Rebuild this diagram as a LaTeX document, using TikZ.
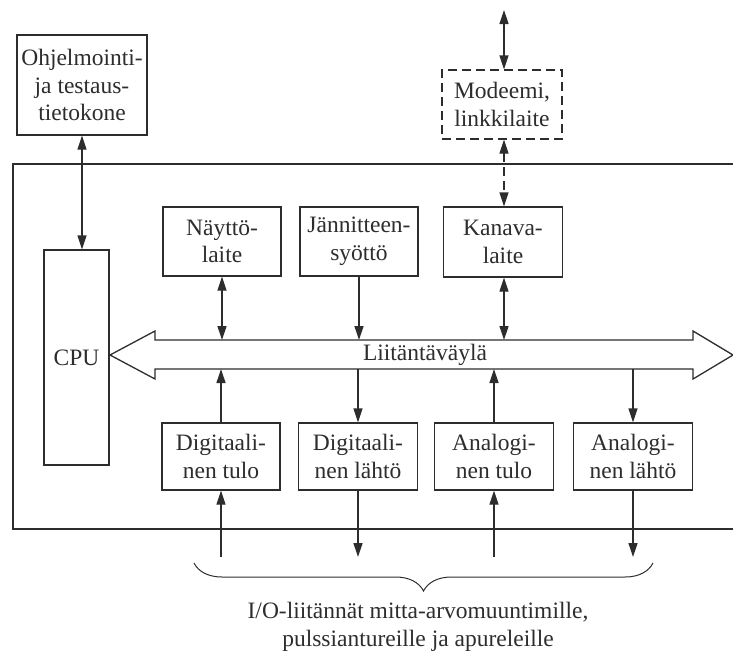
\documentclass[tikz,border=0pt]{standalone}
\usepackage{fontspec}
\setmainfont{Liberation Serif}
\usetikzlibrary{arrows.meta,decorations.pathreplacing}
\definecolor{ink}{RGB}{45,45,45}
\newcommand{\diafont}{\fontsize{23.5}{27.5}\selectfont}
\begin{document}
\begin{tikzpicture}[x=1pt,y=-1pt,line width=1.3pt,color=ink,
  every node/.style={font=\diafont,text=ink},
  box/.style={draw,inner sep=0pt,align=center,fill=white},
  tip/.style={-{Triangle[length=14pt,width=9pt]}},
  both/.style={{Triangle[length=14pt,width=9pt]}-{Triangle[length=14pt,width=9pt]}},
  dashline/.style={dash pattern=on 9pt off 5pt}]
\useasboundingbox (0,0) rectangle (733,653);
% outer frame
\draw (733,164) -- (13,164) -- (13,529) -- (733,529);
% boxes
\node[box,minimum width=130pt,minimum height=100pt] (prog) at (82,85) {Ohjelmointi-\\ja testaus-\\tietokone};
\node[box,dashline,minimum width=120pt,minimum height=69pt] (modem) at (502,104.5) {Modeemi,\\linkkilaite};
\coordinate (topend) at (504,10);
\node[box,minimum width=65pt,minimum height=215pt] (cpu) at (76.5,357.5) {CPU};
\node[box,minimum width=118pt,minimum height=69pt] (nay) at (222,241.5) {Näyttö-\\laite};
\node[box,minimum width=118pt,minimum height=69pt] (jan) at (359,241.5) {Jännitteen-\\syöttö};
\node[box,minimum width=119pt,minimum height=70pt] (kan) at (503,242) {Kanava-\\laite};
\node[box,minimum width=118pt,minimum height=67pt] (dti) at (221,456.5) {Digitaali-\\nen tulo};
\node[box,minimum width=119pt,minimum height=67pt] (dla) at (358,456.5) {Digitaali-\\nen lähtö};
\node[box,minimum width=119pt,minimum height=67pt] (ati) at (494,456.5) {Analogi-\\nen tulo};
\node[box,minimum width=119pt,minimum height=67pt] (ala) at (633,456.5) {Analogi-\\nen lähtö};
% bus
\draw[fill=white] (110,355) -- (155,331) -- (155,340) -- (693,340) -- (693,331) -- (733,355) -- (693,379) -- (693,369) -- (155,369) -- (155,379) -- cycle;
\node (bus) at (425,355) {Liitäntäväylä};
\coordinate (bustop) at (0,340);
\coordinate (busbot) at (0,369);
\coordinate (low) at (0,557);
% top connectors
\draw[both] (prog.south) -- (prog.south |- cpu.north);
\draw[both] (topend) -- (topend |- modem.north);
\draw[both,dashline] (modem.south -| topend) -- (kan.north -| topend);
\draw[both] (kan.south -| topend) -- (topend |- bustop);
\draw[both] (nay.south) -- (nay.south |- bustop);
\draw[tip] (jan.south) -- (jan.south |- bustop);
% bus to lower boxes
\draw[tip] (dti.north) -- (dti.north |- busbot);
\draw[tip] (dla.north |- busbot) -- (dla.north);
\draw[tip] (ati.north) -- (ati.north |- busbot);
\draw[tip] (ala.north |- busbot) -- (ala.north);
% I/O connectors
\draw[tip] (dti.south |- low) -- (dti.south);
\draw[tip] (dla.south) -- (dla.south |- low);
\draw[tip] (ati.south |- low) -- (ati.south);
\draw[tip] (ala.south) -- (ala.south |- low);
% brace
\coordinate (bl) at (194,563);
\coordinate (br) at (653,563);
\draw[line width=1pt,decorate,decoration={brace,amplitude=28pt}] (br) -- (bl);
\node[align=center] (cap) at (418,627) {I/O-liitännät mitta-arvomuuntimille,\\pulssiantureille ja apureleille};
\end{tikzpicture}
\end{document}
